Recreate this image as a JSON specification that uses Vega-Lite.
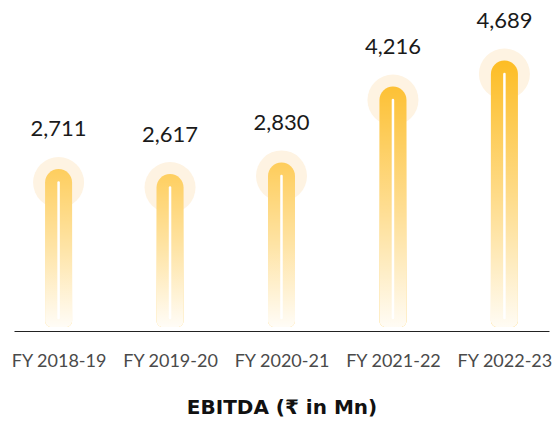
{
  "$schema": "https://vega.github.io/schema/vega-lite/v6.json",
  "width": 535,
  "height": 331,
  "padding": {"left": 10, "right": 7, "top": 0, "bottom": 0},
  "background": "white",
  "config": {"view": {"stroke": null}, "font": "Lato"},
  "data": {
    "values": [
      {"year": "FY 2018-19", "ebitda": 2711},
      {"year": "FY 2019-20", "ebitda": 2617},
      {"year": "FY 2020-21", "ebitda": 2830},
      {"year": "FY 2021-22", "ebitda": 4216},
      {"year": "FY 2022-23", "ebitda": 4689}
    ]
  },
  "encoding": {
    "x": {
      "field": "year",
      "type": "ordinal",
      "sort": null,
      "scale": {"type": "point", "padding": 0.4},
      "axis": {
        "title": "EBITDA (₹ in Mn)",
        "labelAngle": 0,
        "ticks": false,
        "domainColor": "#222222",
        "domainWidth": 1.2,
        "labelFont": "Lato",
        "labelFontSize": 18,
        "labelColor": "#4a4a4a",
        "labelPadding": 21,
        "titleFont": "DejaVu Sans",
        "titleFontSize": 20,
        "titleFontWeight": "bold",
        "titleColor": "#111111",
        "titlePadding": 27
      }
    },
    "y": {
      "field": "ebitda",
      "type": "quantitative",
      "scale": {"domain": [0, 6040], "nice": false},
      "axis": null
    }
  },
  "layer": [
    {
      "mark": {"type": "point", "filled": true, "shape": "circle", "size": 2600, "color": "#FEF3E2", "opacity": 1}
    },
    {
      "mark": {
        "type": "bar",
        "width": 27,
        "yOffset": -13.5,
        "y2Offset": -4,
        "cornerRadiusTopLeft": 13.5,
        "cornerRadiusTopRight": 13.5,
        "cornerRadiusBottomLeft": 6,
        "cornerRadiusBottomRight": 6
      },
      "encoding": {
        "y2": {"datum": 0},
        "color": {
          "field": "ebitda",
          "type": "quantitative",
          "scale": {"domain": [2617, 4689], "range": ["#FECF60", "#FDBD25"]},
          "legend": null
        }
      }
    },
    {
      "mark": {
        "type": "bar",
        "width": 27,
        "yOffset": -13.5,
        "y2Offset": -4,
        "cornerRadiusTopLeft": 13.5,
        "cornerRadiusTopRight": 13.5,
        "cornerRadiusBottomLeft": 6,
        "cornerRadiusBottomRight": 6,
        "fill": {
          "gradient": "linear",
          "x1": 0, "y1": 0, "x2": 0, "y2": 1,
          "stops": [
            {"offset": 0, "color": "rgba(255,255,255,0)"},
            {"offset": 0.5, "color": "rgba(255,255,255,0.45)"},
            {"offset": 1, "color": "rgba(255,255,255,0.95)"}
          ]
        }
      },
      "encoding": {"y2": {"datum": 0}}
    },
    {
      "mark": {"type": "rule", "color": "white", "strokeWidth": 2.5, "strokeCap": "round", "y2Offset": -13},
      "encoding": {"y2": {"datum": 0}}
    },
    {
      "mark": {"type": "text", "dy": -46, "baseline": "alphabetic", "fontSize": 22, "font": "Lato", "color": "#1a1a1a"},
      "encoding": {"text": {"field": "ebitda", "type": "quantitative", "format": ","}}
    }
  ]
}
